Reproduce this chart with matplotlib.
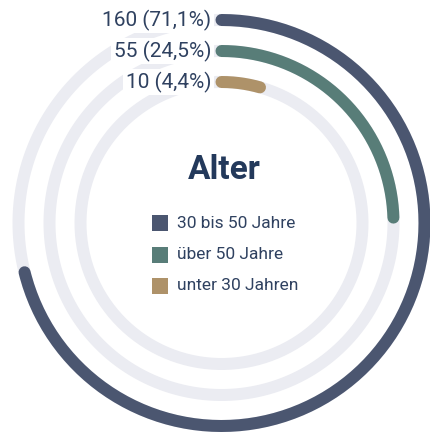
import numpy as np
import matplotlib
matplotlib.use("Agg")
import matplotlib.pyplot as plt
from matplotlib.patches import Rectangle

# data
categories = ["30 bis 50 Jahre", "über 50 Jahre", "unter 30 Jahren"]
counts = [160, 55, 10]
percents = [71.1, 24.5, 4.4]
labels = ["160 (71,1%)", "55 (24,5%)", "10 (4,4%)"]
colors = ["#4b5670", "#587d78", "#ae9269"]
title = "Alter"

track_col = "#ebecf2"
text_col = "#2f4160"
fam = ["Roboto", "DejaVu Sans"]

W, H = 430, 437
fig = plt.figure(figsize=(W / 100, H / 100), dpi=100)

# polar axes, radius in pixels
cx, cy, rmax = 221.5, 223, 212
ax = fig.add_axes([(cx - rmax) / W, (H - cy - rmax) / H, 2 * rmax / W, 2 * rmax / H],
                  projection="polar")
ax.set_theta_zero_location("N")
ax.set_theta_direction(-1)
ax.set_ylim(0, rmax)
ax.axis("off")

radii = [203, 172, 141]
lw = 12 * 72 / 100
full = np.linspace(0, 2 * np.pi, 400)
for r, p, c in zip(radii, percents, colors):
    ax.plot(full, np.full_like(full, r), color=track_col, lw=lw, zorder=1)
    th = np.linspace(0, np.deg2rad(p * 3.6), 200)
    ax.plot(th, np.full_like(th, r), color=c, lw=lw, solid_capstyle="round", zorder=3)

# overlay axes in pixel coords for text
ov = fig.add_axes([0, 0, 1, 1])
ov.set_xlim(0, W)
ov.set_ylim(H, 0)
ov.axis("off")

for r, lab in zip(radii, labels):
    ov.text(211, cy - r, lab, ha="right", va="center", fontsize=15, color=text_col,
            family=fam, bbox=dict(facecolor="white", edgecolor="none", pad=2))

ov.text(224, 170, title, ha="center", va="center", fontsize=24, fontweight="bold",
        color="#23395b", family=fam)

for i, (cat, c) in enumerate(zip(categories, colors)):
    y = 223 + i * 31.5
    ov.add_patch(Rectangle((152, y - 8), 16, 16, facecolor=c, edgecolor="none"))
    ov.text(177, y, cat, ha="left", va="center", fontsize=12.5, color=text_col, family=fam)

fig.savefig("out.png", dpi=100)
